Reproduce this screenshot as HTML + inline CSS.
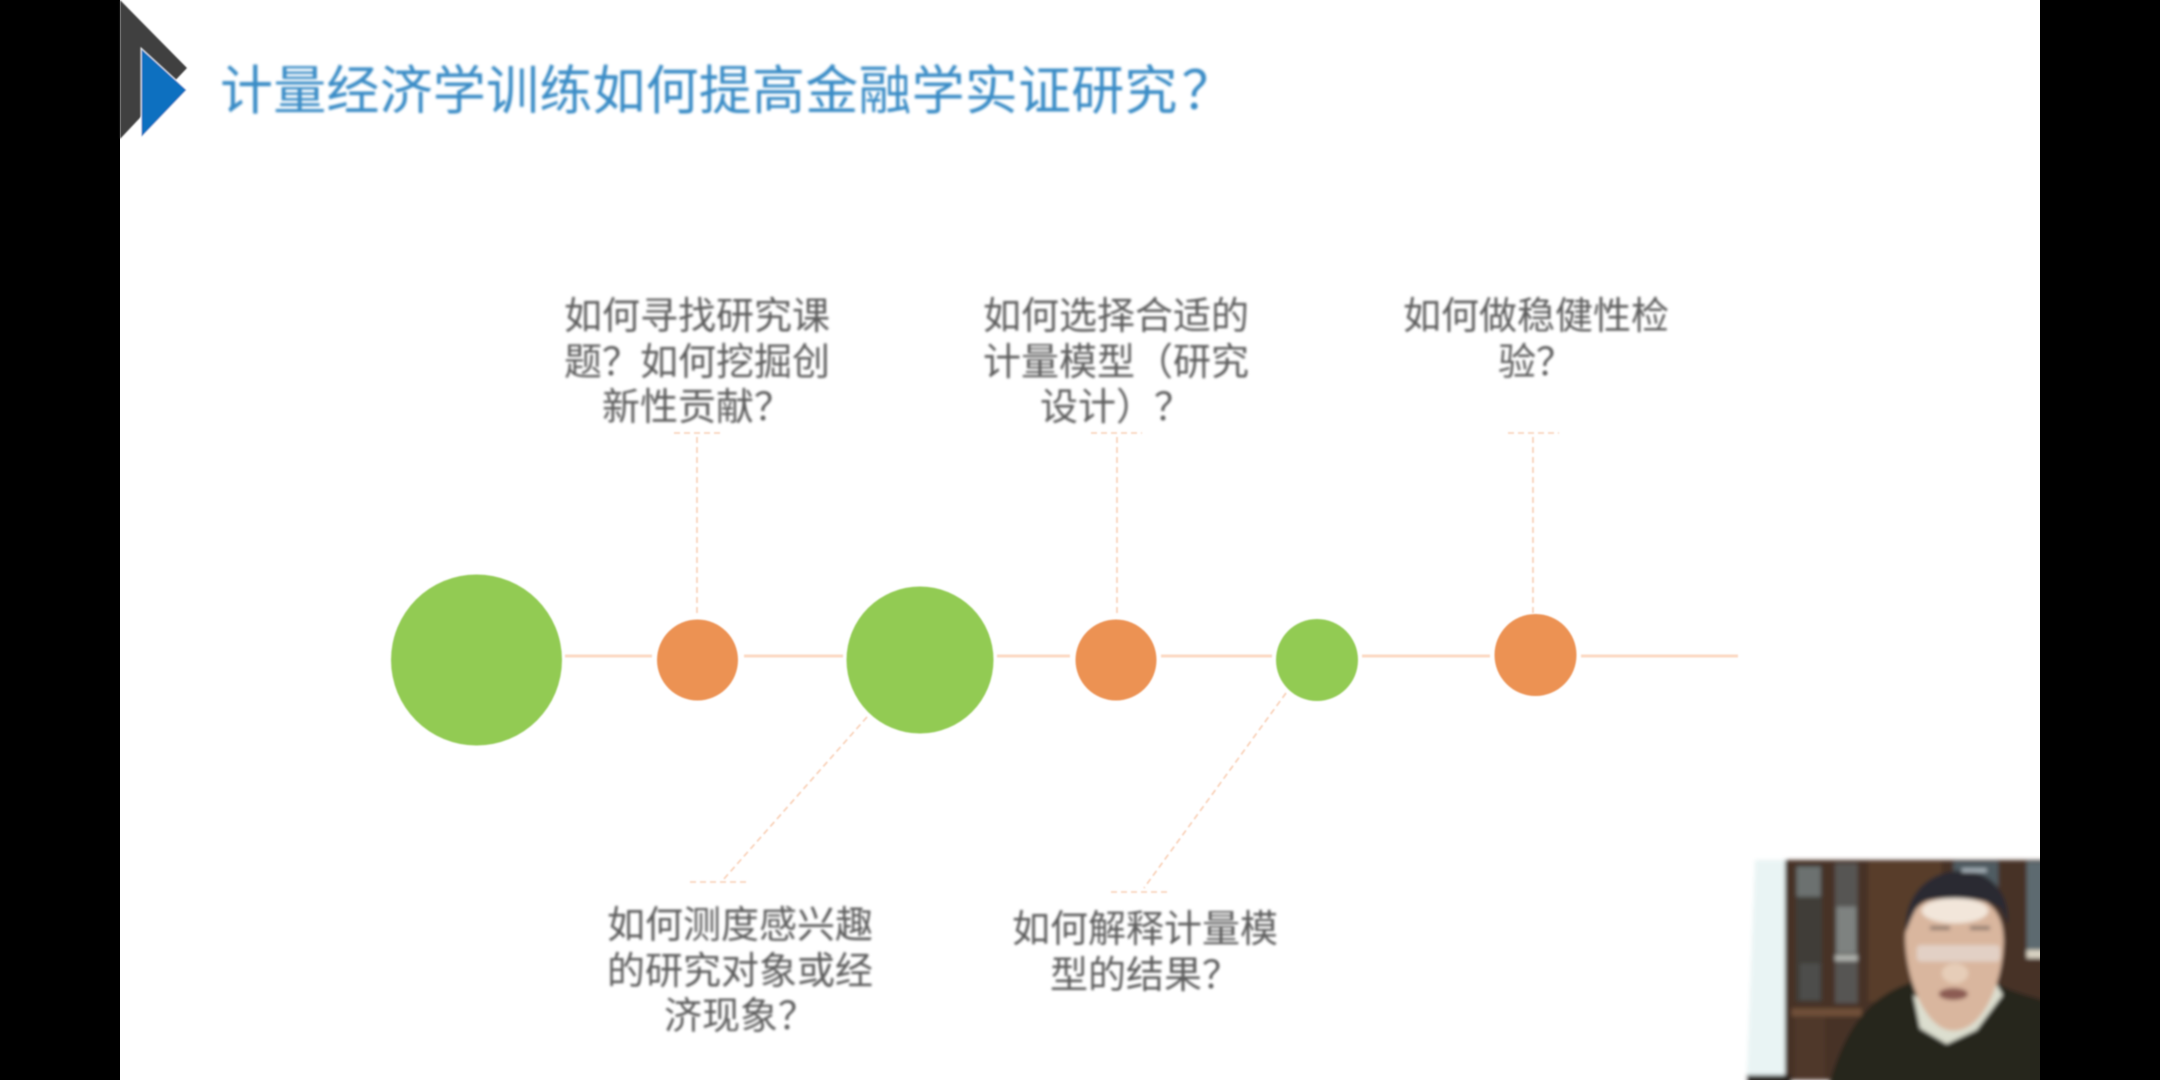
<!DOCTYPE html>
<html lang="zh"><head><meta charset="utf-8"><title>计量经济学训练如何提高金融学实证研究？</title>
<style>
html,body{margin:0;padding:0;background:#000}
#s{position:relative;width:2160px;height:1080px;overflow:hidden;background:#000;font-family:"Liberation Sans","Noto Sans CJK SC",sans-serif}
#w{position:absolute;left:120px;top:0;width:1920px;height:1080px;background:#fff}
svg{position:absolute;left:0;top:0}
.t{position:absolute;transform:translateX(-50%);white-space:nowrap;font-size:38px;line-height:45.5px;color:#5c5c5c;text-align:center;filter:blur(1.2px)}
#h{position:absolute;left:220px;top:58px;font-size:53px;line-height:68px;white-space:nowrap;color:#3a8cc6;filter:blur(1.2px);font-weight:400;letter-spacing:.2px}
#h span{margin-left:4px}
</style></head><body>
<div id="s"><div id="w"></div>
<svg width="2160" height="1080" viewBox="0 0 2160 1080">
<defs><filter id="b" filterUnits="userSpaceOnUse" x="0" y="0" width="1000" height="800"><feGaussianBlur stdDeviation="6"/></filter>
<filter id="c" filterUnits="userSpaceOnUse" x="0" y="0" width="2160" height="1080"><feGaussianBlur stdDeviation=".8"/></filter>
<clipPath id="v"><rect x="1720" y="840" width="320" height="240"/></clipPath></defs>
<polygon points="120,0 187,68 120,139" fill="#404040" filter="url(#c)"/>
<polygon points="141,48 187,90 141,138" fill="#0e70c0" stroke="#fff" stroke-width="1" filter="url(#c)"/>
<g stroke="#fbd9c3" stroke-width="3" filter="url(#c)">
<line x1="565" y1="656" x2="652" y2="656"/><line x1="744" y1="656" x2="843" y2="656"/>
<line x1="997" y1="656" x2="1070" y2="656"/><line x1="1161" y1="656" x2="1272" y2="656"/>
<line x1="1362" y1="656" x2="1490" y2="656"/><line x1="1581" y1="656" x2="1738" y2="656"/>
</g>
<g stroke="#f8cdb2" stroke-width="1.6" stroke-dasharray="6 4" fill="none" filter="url(#c)">
<path d="M697 613V433M674 433H723"/>
<path d="M1117 613V433M1091 433H1142"/>
<path d="M1533 613V433M1508 433H1559"/>
<path d="M867 717L723 880M690 882H748"/>
<path d="M1286 693L1144 888M1111 892H1169"/>
</g>
<g filter="url(#c)">
<circle cx="476.500" cy="660" r="85.500" fill="#92cb52"/>
<circle cx="697.500" cy="660" r="40.500" fill="#ec9253"/>
<circle cx="920" cy="660" r="73.500" fill="#92cb52"/>
<circle cx="1116" cy="660" r="40.500" fill="#ec9253"/>
<circle cx="1317" cy="660" r="41" fill="#92cb52"/>
<circle cx="1535.500" cy="655" r="41" fill="#ec9253"/>
</g>
<g clip-path="url(#v)"><g transform="translate(1720 840) scale(.33333)" filter="url(#b)">
<rect x="0" y="0" width="105" height="720" fill="#fff"/>
<path d="M105 60H195L212 720H80Z" fill="#e9f4f4"/>
<rect x="195" y="60" width="805" height="660" fill="#473025"/>
<rect x="228" y="75" width="78" height="410" fill="#3f3c39"/>
<rect x="230" y="80" width="72" height="90" fill="#6c716f"/>
<rect x="240" y="370" width="60" height="110" fill="#4d4e4b"/>
<rect x="345" y="70" width="68" height="420" fill="#565552"/>
<rect x="350" y="200" width="58" height="140" fill="#7e8280"/>
<rect x="345" y="345" width="68" height="18" fill="#aeb0ac"/>
<rect x="445" y="65" width="220" height="420" fill="#583c2c"/>
<rect x="700" y="65" width="135" height="90" fill="#4f5c62"/>
<rect x="920" y="65" width="80" height="270" fill="#5d6a70"/>
<rect x="920" y="330" width="80" height="25" fill="#d9d3c3"/>
<rect x="215" y="505" width="210" height="24" fill="#6f4f38"/>
<rect x="225" y="530" width="90" height="190" fill="#4f392c"/>
<path d="M80 705H212V760H80Z" fill="#2a2622"/>
<path d="M320 760C370 570 440 470 580 425L840 435C890 465 1000 480 1000 500V760Z" fill="#25261f"/>
<path d="M580 465L600 565L680 612L770 570L848 465L825 425L700 520Z" fill="#dcdecf"/>
<path d="M556 300C555 190 640 165 710 165C800 165 858 210 850 320C845 430 790 572 700 572C620 572 560 430 556 300Z" fill="#d9b69e"/>
<ellipse cx="705" cy="212" rx="100" ry="38" fill="#f2e6da"/>
<path d="M558 275C550 170 620 95 720 92C815 92 870 160 864 255L842 205C790 170 660 165 600 190C580 215 570 245 558 275Z" fill="#2b2c30"/>
<rect x="725" y="85" width="75" height="12" fill="#a9b4bb"/>
<rect x="630" y="258" width="60" height="12" fill="#8e7a6e"/>
<rect x="750" y="258" width="60" height="12" fill="#8e7a6e"/>
<rect x="590" y="315" width="250" height="50" rx="12" fill="#e6dcd6" opacity=".7"/>
<ellipse cx="705" cy="400" rx="40" ry="30" fill="#e6cdb8"/>
<ellipse cx="700" cy="462" rx="44" ry="18" fill="#8c5c52"/>
</g></g>
</svg>
<div id="h">计量经济学训练如何提高金融学实证研究<span>？</span></div>
<div class="t" style="left:697px;top:295px">如何寻找研究课<br>题？如何挖掘创<br>新性贡献？</div>
<div class="t" style="left:1116px;top:295px">如何选择合适的<br>计量模型（研究<br>设计）？</div>
<div class="t" style="left:1536px;top:295px">如何做稳健性检<br>验？</div>
<div class="t" style="left:740px;top:904px">如何测度感兴趣<br>的研究对象或经<br>济现象？</div>
<div class="t" style="left:1145px;top:908px">如何解释计量模<br>型的结果？</div>
</div>
</body></html>
